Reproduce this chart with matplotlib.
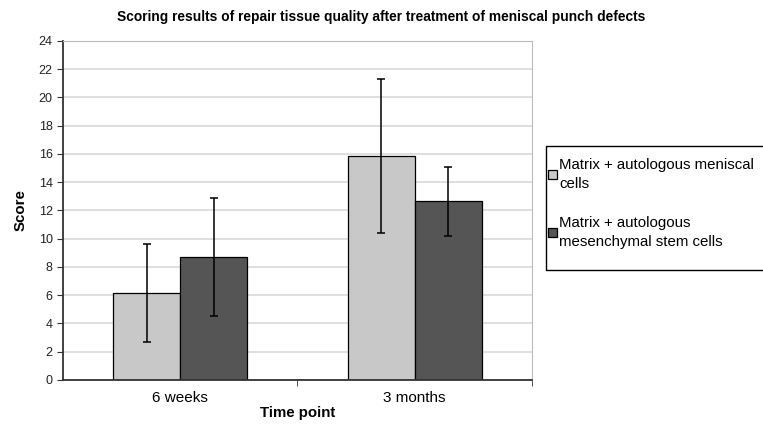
import numpy as np
import matplotlib.pyplot as plt
from matplotlib.patches import Rectangle

plt.rcParams['font.family'] = ['Liberation Sans', 'DejaVu Sans']

time_points = ["6 weeks", "3 months"]
series_names = ["Matrix + autologous meniscal\ncells",
                "Matrix + autologous\nmesenchymal stem cells"]
meniscal = [6.15, 15.85]
meniscal_err = [3.45, 5.45]
msc = [8.7, 12.65]
msc_err = [4.15, 2.45]
colors = ["#c8c8c8", "#555555"]

fig = plt.figure(figsize=(7.63, 4.30), dpi=100)
ax = fig.add_axes([0.0826, 0.1163, 0.6144, 0.7884])

x = np.arange(len(time_points))
w = 1 / 3.5
for i, (vals, errs) in enumerate([(meniscal, meniscal_err), (msc, msc_err)]):
    ax.bar(x + (i - 0.5) * w, vals, w, color=colors[i], edgecolor="black",
           linewidth=0.9, label=series_names[i], zorder=2)
    ax.errorbar(x + (i - 0.5) * w, vals, yerr=errs, fmt="none", ecolor="black",
                elinewidth=1.1, capsize=3, capthick=1.1, zorder=3)

ax.set_xlim(-0.5, 1.5)
ax.set_ylim(0, 24)
ax.set_yticks(range(0, 25, 2))
ax.yaxis.grid(True, color="#d9d9d9", linewidth=1.2, zorder=0)
ax.set_axisbelow(True)
ax.set_xticks(x)
ax.set_xticklabels(time_points, fontsize=11)
ax.set_xticks([0.5, 1.5], minor=True)
ax.tick_params(axis="x", which="major", length=0, pad=8)
ax.tick_params(axis="x", which="minor", length=4, direction="out", color="#333333")
ax.tick_params(axis="y", labelsize=9, length=4, color="#333333", labelcolor="#222222")

for s in ["left", "bottom"]:
    ax.spines[s].set_color("#333333")
    ax.spines[s].set_linewidth(1.3)
ax.spines["top"].set_color("#bbbbbb")
ax.spines["right"].set_color("#bbbbbb")

ax.set_xlabel("Time point", fontsize=10.8, fontweight="bold", labelpad=1)
ax.set_ylabel("Score", fontsize=10.8, fontweight="bold", labelpad=8)
fig.text(0.5, 0.95, "Scoring results of repair tissue quality after treatment of meniscal punch defects",
         ha="center", fontsize=9.9, fontweight="bold")

# legend box runs off the right edge in the original
fig.patches.append(Rectangle((546 / 763, 1 - 270 / 430), 0.35, 124 / 430,
                             transform=fig.transFigure, fill=False,
                             edgecolor="black", linewidth=1.0))
leg = ax.legend(loc="upper left", bbox_to_anchor=(548 / 763, 1 - 158 / 430),
                bbox_transform=fig.transFigure,
                fontsize=10.8, frameon=False,
                handlelength=0.6, handleheight=0.6, handletextpad=0.15,
                labelspacing=1.65, borderpad=0, borderaxespad=0)
for t in leg.get_texts():
    t.set_linespacing(1.45)

fig.savefig("out.png", dpi=100)
